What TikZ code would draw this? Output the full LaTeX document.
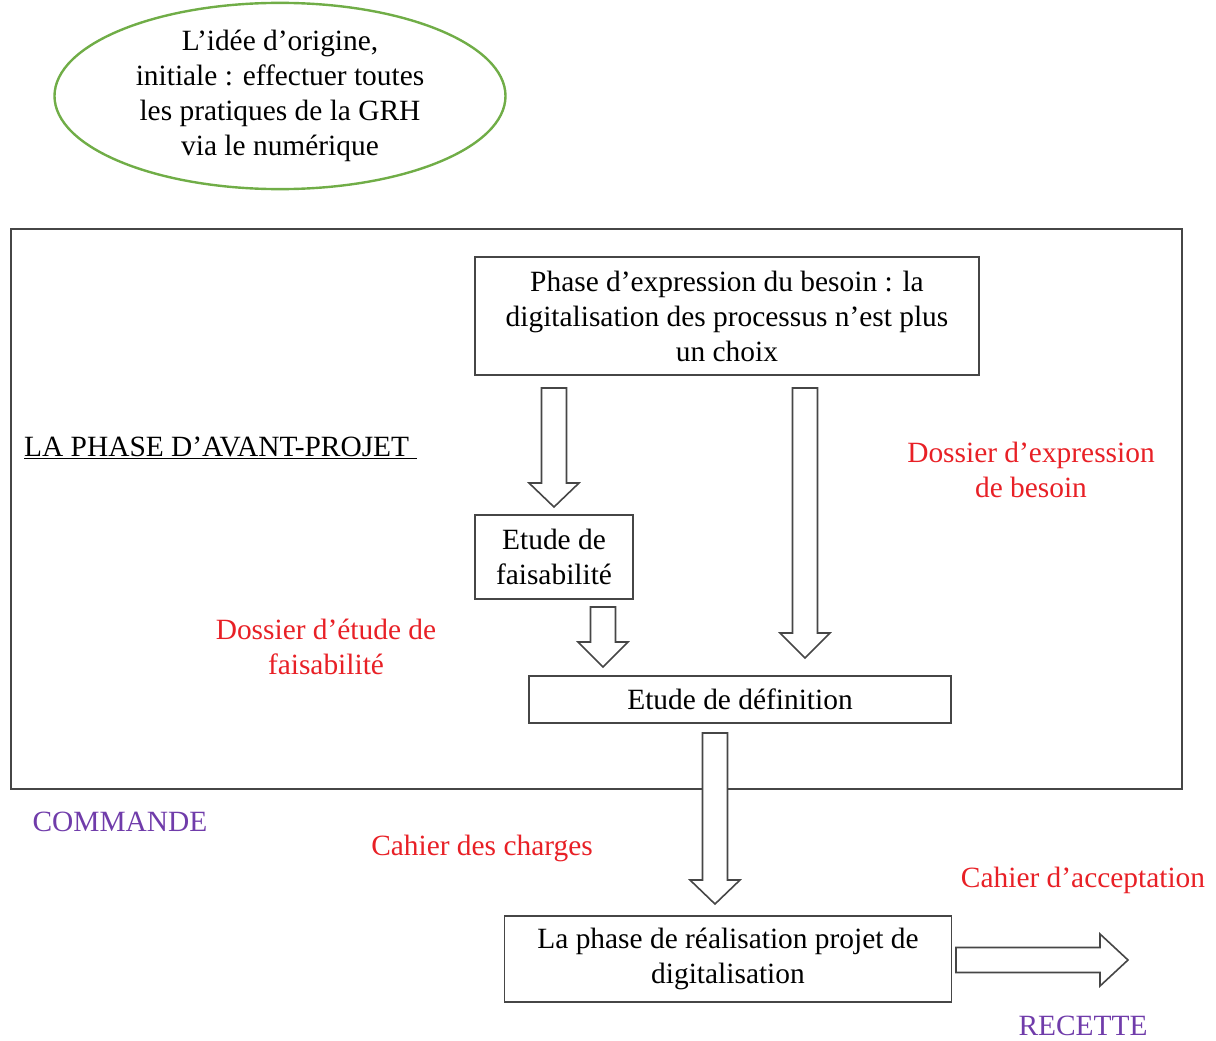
\documentclass[tikz,border=0pt]{standalone}
\usepackage{fontspec}
\setmainfont{Liberation Serif}
\usetikzlibrary{shapes.geometric,calc}
\definecolor{frame}{RGB}{70,70,70}
\definecolor{leafgreen}{RGB}{112,173,71}
\definecolor{docred}{RGB}{232,32,38}
\definecolor{stagepurple}{RGB}{112,60,170}

% vertical hollow block arrow: #1 top of shaft, #2 tip, #3 head length
\newcommand\downblock[3]{%
  \draw[blockarrow] ($(#1)+(-12.5,0)$) -- ($(#2)+(-12.5,-#3)$) -- ($(#2)+(-25,-#3)$)
    -- (#2) -- ($(#2)+(25,-#3)$) -- ($(#2)+(12.5,-#3)$) -- ($(#1)+(12.5,0)$) -- cycle;}
% horizontal hollow block arrow: #1 start of shaft, #2 tip, #3 head length
\newcommand\rightblock[3]{%
  \draw[blockarrow] ($(#1)+(0,-12.5)$) -- ($(#2)+(-#3,-12.5)$) -- ($(#2)+(-#3,-26)$)
    -- (#2) -- ($(#2)+(-#3,26)$) -- ($(#2)+(-#3,12.5)$) -- ($(#1)+(0,12.5)$) -- cycle;}

\begin{document}
\begin{tikzpicture}[x=1pt,y=-1pt,
  every node/.style={font=\fontsize{29.4}{35}\selectfont, inner sep=0pt},
  box/.style={draw=frame, line width=1.6pt, align=center, fill=white},
  blockarrow/.style={draw=frame, line width=1.6pt, fill=white, line join=miter},
  doc/.style={text=docred, align=center},
  stage/.style={text=stagepurple}]
\useasboundingbox (0,0) rectangle (1216,1041);

% initial idea
\node[ellipse, draw=leafgreen, line width=2.4pt, minimum width=451, minimum height=175, align=center]
  (idea) at (280,96) {L'idée d'origine,\\initiale : effectuer toutes\\les pratiques de la GRH\\via le numérique};

% pre-project frame
\node[draw=frame, line width=1.6pt, minimum width=1171, minimum height=560] (avant) at (596.5,509) {};
\node[anchor=west] (avtitle) at (24,448) {\underline{LA PHASE D'AVANT-PROJET\ }};

% stages
\node[box, minimum width=504, minimum height=118] (besoin) at (727,316)
  {Phase d'expression du besoin : la\\digitalisation des processus n'est plus\\un choix};
\node[box, minimum width=158, minimum height=84] (faisab) at (554,557) {Etude de\\faisabilité};
\node[box, minimum width=422, minimum height=47] (defin) at (740,699.5) {Etude de définition};
\node[box, minimum width=447, minimum height=86] (realis) at (728,959)
  {La phase de réalisation projet de\\digitalisation};

% documents produced
\node[doc] (dexpr) at (1031,470) {Dossier d'expression\\de besoin};
\node[doc] (dfais) at (326,647) {Dossier d'étude de\\faisabilité};
\node[doc] (cdc) at (482,848) {Cahier des charges};
\node[doc] (cacc) at (1083,880) {Cahier d'acceptation};
\node[stage] (cmd) at (120,822) {COMMANDE};
\node[stage] (rec) at (1083,1026) {RECETTE};

% block arrows
\coordinate (a1s) at (554,388); \coordinate (a1t) at (554,507);
\coordinate (a2s) at (603,607); \coordinate (a2t) at (603,667);
\coordinate (a3s) at (805,388); \coordinate (a3t) at (805,658);
\coordinate (a4s) at (715,733); \coordinate (a4t) at (715,904);
\coordinate (a5s) at (956,960); \coordinate (a5t) at (1128,960);
\downblock{a1s}{a1t}{24}
\downblock{a2s}{a2t}{25}
\downblock{a3s}{a3t}{25}
\downblock{a4s}{a4t}{24}
\rightblock{a5s}{a5t}{28}
\end{tikzpicture}
\end{document}
